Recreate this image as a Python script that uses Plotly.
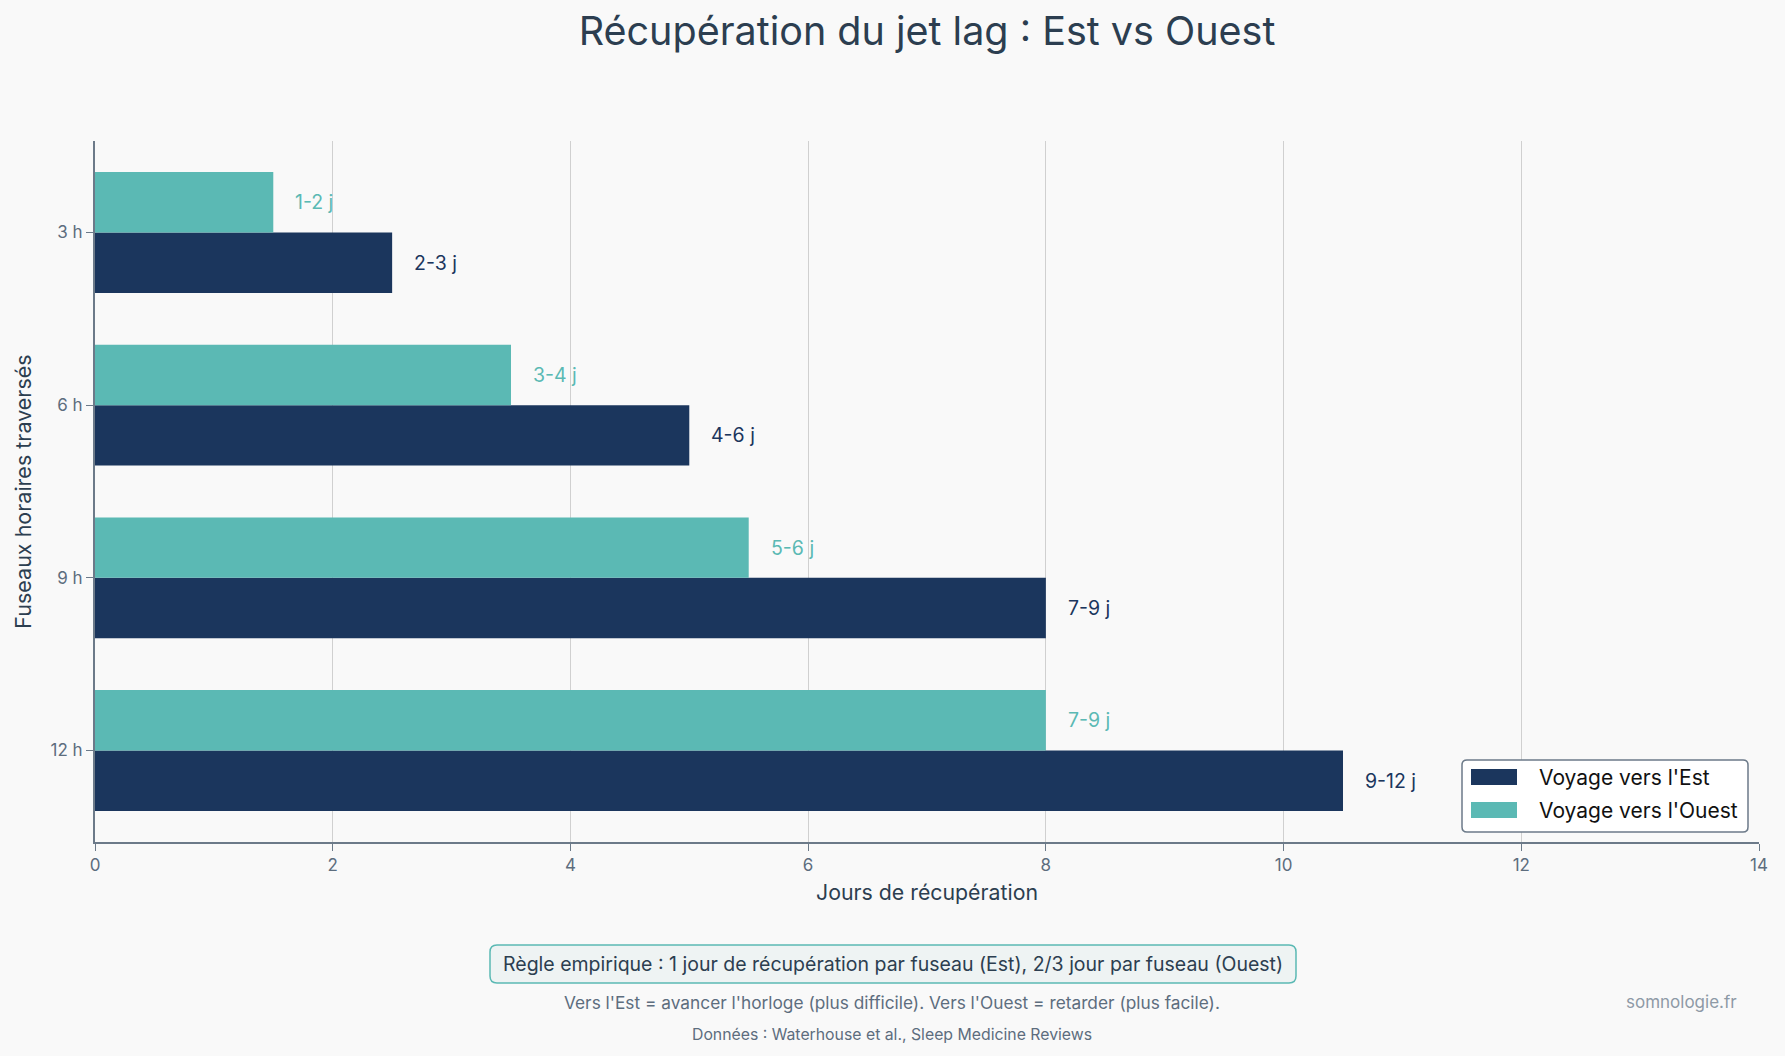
import plotly.graph_objects as go

categories = ["3 h", "6 h", "9 h", "12 h"]
est_values = [2.5, 5, 8, 10.5]
ouest_values = [1.5, 3.5, 5.5, 8]
est_labels = ["2-3 j", "4-6 j", "7-9 j", "9-12 j"]
ouest_labels = ["1-2 j", "3-4 j", "5-6 j", "7-9 j"]
x_ticks = [0, 2, 4, 6, 8, 10, 12, 14]
series_names = ["Voyage vers l'Est", "Voyage vers l'Ouest"]

NAVY = "#1b365d"
TEAL = "#5bb9b4"
BG = "#f9f9f9"
DARK = "#2c3e50"
SLATE = "#5d6d7e"
AXIS = "#6c7a89"
FONT = "Inter, Liberation Sans, Arial, sans-serif"

W, H = 1785, 1056
ml, mr, mt, mb = 95, 26, 141, 214
ph = H - mt - mb
pw = W - ml - mr
def py(y):
    return (H - mb - y) / ph
def px(x):
    return (x - ml) / pw

def rounded_rect(x0, y0, x1, y1, r):
    X0, X1 = px(x0), px(x1)
    Y0, Y1 = py(y0), py(y1)
    rx, ry = r / pw, r / ph
    return (f"M {X0+rx},{Y0} L {X1-rx},{Y0} Q {X1},{Y0} {X1},{Y0-ry} "
            f"L {X1},{Y1+ry} Q {X1},{Y1} {X1-rx},{Y1} L {X0+rx},{Y1} "
            f"Q {X0},{Y1} {X0},{Y1+ry} L {X0},{Y0-ry} Q {X0},{Y0} {X0+rx},{Y0} Z")

fig = go.Figure()
fig.add_trace(go.Bar(y=categories, x=est_values, orientation="h", name=series_names[0],
                     marker=dict(color=NAVY, line=dict(width=0))))
fig.add_trace(go.Bar(y=categories, x=ouest_values, orientation="h", name=series_names[1],
                     marker=dict(color=TEAL, line=dict(width=0))))

anns = []
n = len(categories)
for i, c in enumerate(categories):
    pos = n - 1 - i
    anns.append(dict(x=est_values[i], y=pos - 0.175, xref="x", yref="y", text=est_labels[i],
                     showarrow=False, xanchor="left", xshift=20,
                     font=dict(size=19.5, color=NAVY)))
    anns.append(dict(x=ouest_values[i], y=pos + 0.175, xref="x", yref="y", text=ouest_labels[i],
                     showarrow=False, xanchor="left", xshift=20,
                     font=dict(size=19.5, color=TEAL)))

shapes = []
shapes.append(dict(type="path", xref="paper", yref="paper",
                   path=rounded_rect(490, 945, 1296, 983, 7),
                   fillcolor="#eef3f3", line=dict(color=TEAL, width=1.5), layer="above"))
anns.append(dict(x=px(893), y=py(964), xref="paper", yref="paper", xanchor="center", yanchor="middle",
                 text="Règle empirique : 1 jour de récupération par fuseau (Est), 2/3 jour par fuseau (Ouest)",
                 showarrow=False, font=dict(size=19.5, color=DARK)))
anns.append(dict(x=px(892), y=py(1002), xref="paper", yref="paper", xanchor="center", yanchor="middle",
                 text="Vers l'Est = avancer l'horloge (plus difficile). Vers l'Ouest = retarder (plus facile).",
                 showarrow=False, font=dict(size=17.3, color=SLATE)))
anns.append(dict(x=px(892), y=py(1034), xref="paper", yref="paper", xanchor="center", yanchor="middle",
                 text="Données : Waterhouse et al., Sleep Medicine Reviews",
                 showarrow=False, font=dict(size=15.8, color=SLATE)))
anns.append(dict(x=px(1739), y=py(1002), xref="paper", yref="paper", xanchor="right", yanchor="middle",
                 text="somnologie.fr", showarrow=False, font=dict(size=17, color="#8e9aa6")))

# custom legend
shapes.append(dict(type="path", xref="paper", yref="paper",
                   path=rounded_rect(1462, 760, 1748, 832, 5),
                   fillcolor="white", line=dict(color=AXIS, width=1.5), layer="above"))
for nm, col, yc in [(series_names[0], NAVY, 777), (series_names[1], TEAL, 810)]:
    shapes.append(dict(type="rect", xref="paper", yref="paper",
                       x0=px(1471), x1=px(1517), y0=py(yc - 8), y1=py(yc + 8),
                       fillcolor=col, line=dict(width=0), layer="above"))
    anns.append(dict(x=px(1537), y=py(yc), xref="paper", yref="paper", xanchor="left", yanchor="middle",
                     text=nm, showarrow=False, font=dict(size=21, color="#111111")))

fig.update_layout(
    width=W, height=H,
    paper_bgcolor=BG, plot_bgcolor=BG,
    font=dict(family=FONT, color=DARK),
    margin=dict(l=ml, r=mr, t=mt, b=mb, autoexpand=False),
    title=dict(text="Récupération du jet lag : Est vs Ouest", x=0.5, xanchor="center",
               xref="paper", y=1 - 31 / H, yanchor="middle", yref="container",
               font=dict(size=39.5, color=DARK)),
    barmode="group", bargap=0.3, bargroupgap=0,
    annotations=anns, shapes=shapes,
    showlegend=False,
    xaxis=dict(range=[0, 14], tickvals=x_ticks, showgrid=True, gridcolor="#d0d0d0", gridwidth=1,
               showline=True, linecolor=AXIS, linewidth=2, ticks="outside", ticklen=7,
               tickcolor=AXIS, zeroline=False,
               tickfont=dict(size=17, color=SLATE),
               title=dict(text="Jours de récupération", font=dict(size=21.3, color=DARK), standoff=11)),
    yaxis=dict(type="category", categoryorder="array", categoryarray=categories[::-1],
               range=[-0.53, 3.53], showgrid=False, showline=True, linecolor=AXIS, linewidth=2,
               ticks="outside", ticklen=7, tickcolor=AXIS, zeroline=False,
               tickfont=dict(size=17, color=SLATE),
               title=dict(text="Fuseaux horaires traversés", font=dict(size=21.5, color=DARK), standoff=13)),
)

fig.write_html("out.html")
